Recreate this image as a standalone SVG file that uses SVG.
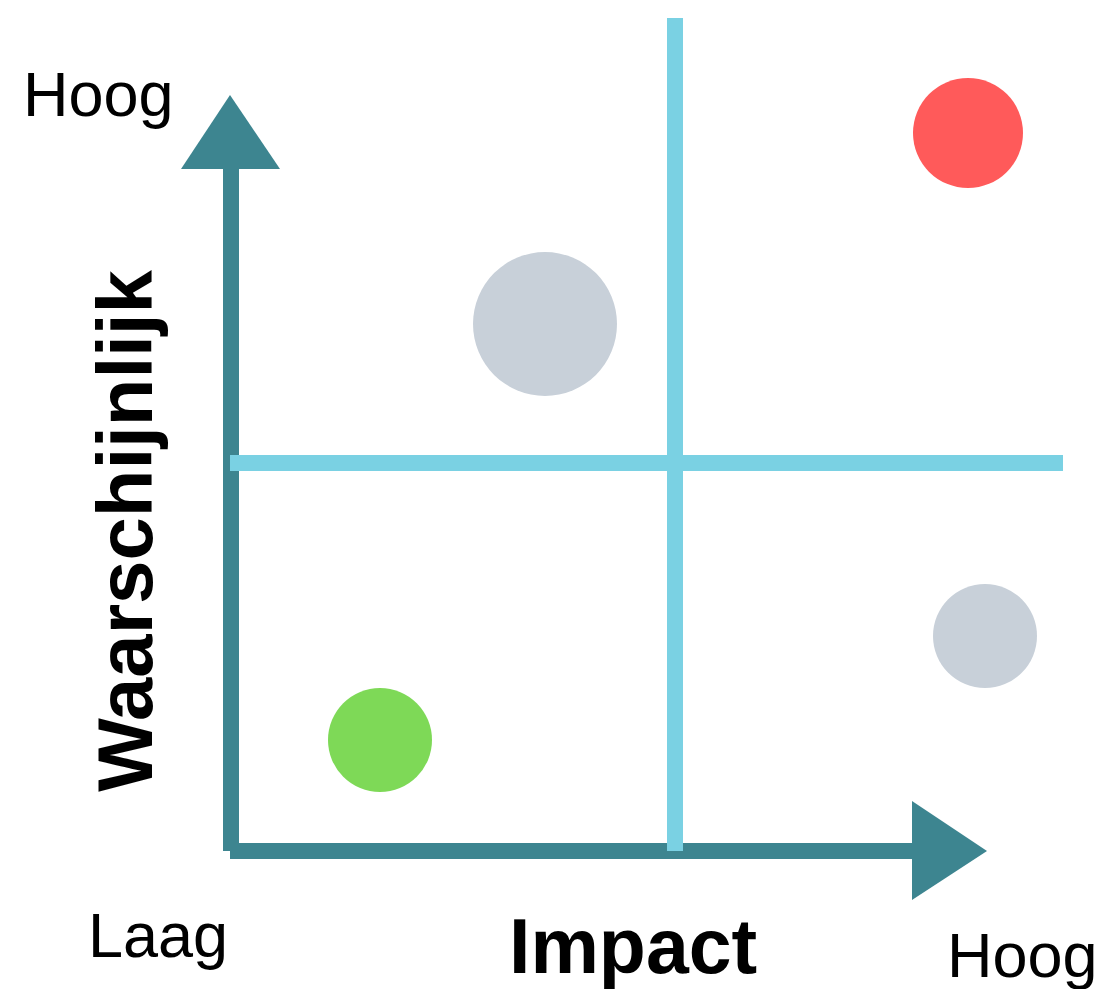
<svg xmlns="http://www.w3.org/2000/svg" width="1115" height="989" viewBox="0 0 1115 989">
<style>
.axis{stroke:#3d8590;stroke-width:16;fill:none}
.head{fill:#3d8590}
.grid{stroke:#7ad1e3;stroke-width:16;fill:none}
.lbl{font-family:"Liberation Sans",Arial,sans-serif;fill:#000}
.b{font-weight:bold}
</style>
<rect width="1115" height="989" fill="#fff"/>
<g id="connectors">
<line class="axis" x1="231" y1="165" x2="231" y2="851"/>
<line class="axis" x1="230" y1="851" x2="916" y2="851"/>
<polygon class="head" points="230,95 181,169 280,169"/>
<polygon class="head" points="987,851 912,801 912,900"/>
<line class="grid" x1="675" y1="18" x2="675" y2="851"/>
<line class="grid" x1="230" y1="463" x2="1063" y2="463"/>
</g>
<g id="node-red"><circle cx="968" cy="133" r="55" fill="#ff5a5a"/></g>
<g id="node-gray1"><circle cx="545" cy="324" r="72" fill="#c8d0d9"/></g>
<g id="node-gray2"><circle cx="985" cy="636" r="52" fill="#c8d0d9"/></g>
<g id="node-green"><circle cx="380" cy="740" r="52" fill="#7ed957"/></g>
<g id="labels">
<text class="lbl" x="23" y="116" font-size="63">Hoog</text>
<text class="lbl" x="88" y="957" font-size="63">Laag</text>
<text class="lbl" x="947" y="977" font-size="63">Hoog</text>
<text class="lbl b" x="509" y="973" font-size="77">Impact</text>
<text class="lbl b" font-size="78" text-anchor="middle" transform="translate(152,531) rotate(-90)">Waarschijnlijk</text>
</g>
</svg>
